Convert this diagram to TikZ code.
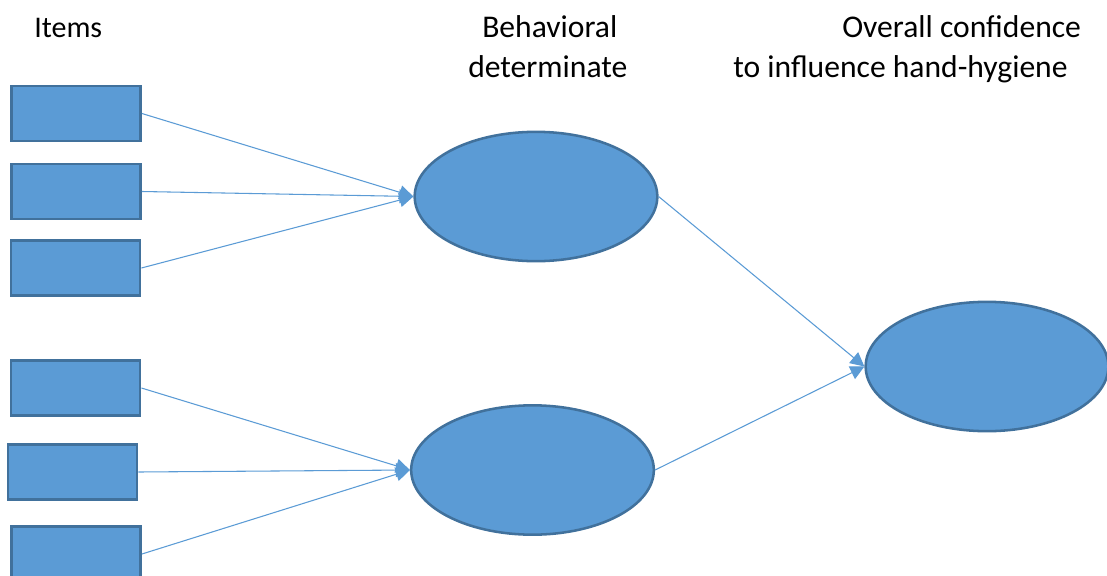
\documentclass[tikz,border=0pt]{standalone}
\usepackage{fontspec}
\setmainfont{Carlito}
\usetikzlibrary{arrows.meta,shapes.geometric}
\definecolor{itemblue}{RGB}{91,155,213}
\definecolor{edgeblue}{RGB}{65,113,156}
\begin{document}
\begin{tikzpicture}[x=0.75pt,y=-0.75pt]
    \tikzstyle{item}=[rectangle,fill=itemblue,draw=edgeblue,line width=1.9pt,minimum width=97pt,minimum height=41pt,inner sep=0pt]
    \tikzstyle{latent}=[ellipse,fill=itemblue,draw=edgeblue,line width=1.9pt,minimum width=182pt,minimum height=97pt,inner sep=0pt]
    \tikzstyle{head}=[font=\fontsize{23.7}{31}\selectfont,anchor=base west,inner sep=0pt]
    \tikzstyle{path}=[draw=itemblue,line width=0.8pt,-{Triangle[length=10.5pt,width=10.5pt]}]
    \useasboundingbox (0,0) rectangle (1107,575);
    % column titles
    \node[head,font=\fontsize{22.5}{30}\selectfont] (t1) at (34,37) {Items};
    \node[head] (t2) at (482,37) {Behavioral};
    \node[head] (t3) at (468,77) {determinate};
    \node[head] (t4) at (842,37) {Overall confidence};
    \node[head] (t5) at (733,77) {to influence hand-hygiene};
    % items
    \node[item] (b1) at (76,113.5){};
    \node[item] (b2) at (76,191.5){};
    \node[item] (b3) at (75.5,268){};
    \node[item] (b4) at (75.5,388){};
    \node[item] (b5) at (72.5,472){};
    \node[item] (b6) at (76,554){};
    % determinates
    \node[latent] (e1) at (536,196.5){};
    \node[latent] (e2) at (532.5,470){};
    \node[latent] (e3) at (987,366.5){};
    \draw[path] (b1.east) -- (e1.west);
    \draw[path] (b2.east) -- (e1.west);
    \draw[path] (b3.east) -- (e1.west);
    \draw[path] (b4.east) -- (e2.west);
    \draw[path] (b5.east) -- (e2.west);
    \draw[path] (b6.east) -- (e2.west);
    \draw[path] (e1.east) -- (e3.west);
    \draw[path] (e2.east) -- (e3.west);
  \end{tikzpicture}
\end{document}
